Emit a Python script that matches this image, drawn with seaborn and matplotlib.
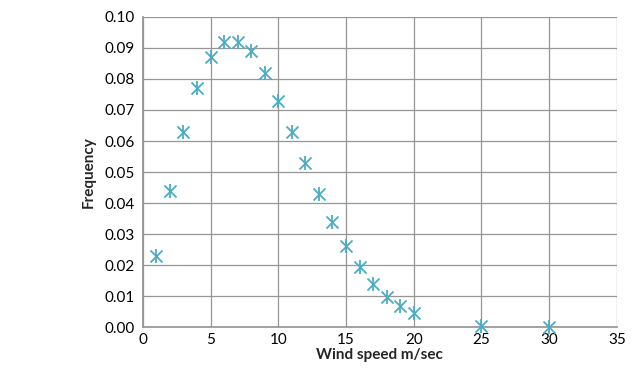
import numpy as np
import pandas as pd
import matplotlib.pyplot as plt
import seaborn as sns

# wind speed distribution
wind_speed = [1, 2, 3, 4, 5, 6, 7, 8, 9, 10, 11, 12, 13, 14, 15, 16, 17, 18, 19, 20, 25, 30]
frequency = [0.023, 0.044, 0.063, 0.077, 0.087, 0.092, 0.092, 0.089, 0.082, 0.073, 0.063,
             0.053, 0.043, 0.034, 0.026, 0.0194, 0.014, 0.0097, 0.0068, 0.0045, 0.0005, 0.0001]

x_ticks = [0, 5, 10, 15, 20, 25, 30, 35]
y_ticks = [0.00, 0.01, 0.02, 0.03, 0.04, 0.05, 0.06, 0.07, 0.08, 0.09, 0.10]

df = pd.DataFrame({"wind": wind_speed, "freq": frequency})

sns.set_theme(style="white")
plt.rcParams["font.family"] = ["Lato", "DejaVu Sans"]

fig = plt.figure(figsize=(6.32, 3.68), dpi=100)
ax = fig.add_axes([0.226, 0.111, 0.75, 0.843])

# asterisk marker = an "x" plus a vertical bar
mk = dict(data=df, x="wind", y="freq", ax=ax, color="#4BACC6", zorder=3,
          legend=False, clip_on=False)
sns.scatterplot(marker="x", s=75, linewidth=1.3, **mk)
sns.scatterplot(marker="|", s=110, linewidth=1.3, **mk)

ax.set_xlim(0, 35)
ax.set_ylim(0, 0.10)
ax.set_xticks(x_ticks)
ax.set_yticks(y_ticks)
ax.set_yticklabels([f"{v:.2f}" for v in y_ticks])
ax.grid(True, color="#969696", linewidth=0.9)
ax.tick_params(axis="both", labelsize=11, length=0, pad=6, colors="black")
ax.tick_params(axis="x", pad=4)

for side in ["top", "right"]:
    ax.spines[side].set_visible(False)
ax.spines["left"].set_color("#969696")
ax.spines["bottom"].set_color("#969696")

ax.set_xlabel("Wind speed m/sec", fontsize=11, fontweight="bold", labelpad=1)
ax.set_ylabel("Frequency", fontsize=11, fontweight="bold", labelpad=6)

fig.savefig("out.png", dpi=100)
